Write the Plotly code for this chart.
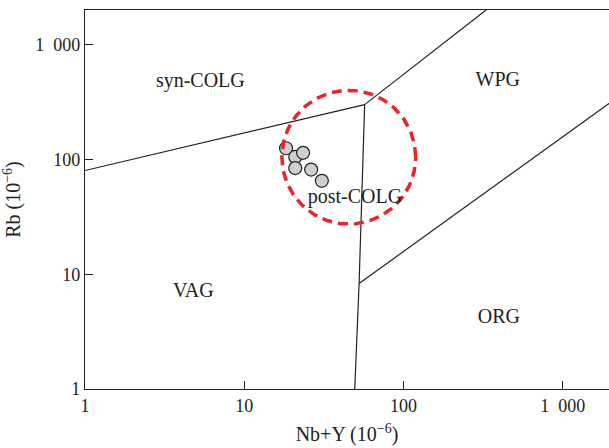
import math
import plotly.graph_objects as go

# Sample data (Nb+Y, Rb) in ppm
nby = [18.3, 20.9, 23.4, 20.9, 26.3, 30.7]
rb = [125, 105, 114, 84, 81.5, 65]

# Discrimination boundaries (Pearce et al. 1984), data coordinates
line_syn_vag_x = [1, 57]
line_syn_vag_y = [80, 300]
line_syn_wpg_x = [57, 330]
line_syn_wpg_y = [300, 2000]
line_vag_wpg_x = [57, 52.6, 49.4]
line_vag_wpg_y = [300, 8.3, 1]
line_org_x = [52.6, 2000]
line_org_y = [8.3, 315]

# Field labels
label_text = ["syn-COLG", "WPG", "post-COLG", "VAG", "ORG"]
label_x = [5.3, 391, 49.5, 4.79, 397]
label_y = [472, 482, 46, 7.05, 4.18]

# Highlight circle: centre (data units) and radii (decades)
circle_center = [45.3, 104.5]
circle_radius_dec = [0.42, 0.5826]

tick_vals = [1, 10, 100, 1000]
tick_text = ["1", "10", "100", "1\u2002000"]

X_MAX = 1950
Y_MAX = 2000

# circle outline in log space
n = 181
cxl = math.log10(circle_center[0])
cyl = math.log10(circle_center[1])
circ_x = [10 ** (cxl + circle_radius_dec[0] * math.cos(2 * math.pi * i / (n - 1))) for i in range(n)]
circ_y = [10 ** (cyl + circle_radius_dec[1] * math.sin(2 * math.pi * i / (n - 1))) for i in range(n)]

fig = go.Figure()
line_style = dict(color="#222222", width=1.2)
for xs, ys in [(line_syn_vag_x, line_syn_vag_y), (line_syn_wpg_x, line_syn_wpg_y),
               (line_vag_wpg_x, line_vag_wpg_y), (line_org_x, line_org_y)]:
    fig.add_trace(go.Scatter(x=xs, y=ys, mode="lines", line=line_style,
                             hoverinfo="skip", showlegend=False))

fig.add_trace(go.Scatter(x=nby, y=rb, mode="markers",
                         marker=dict(size=13, color="#cfcfcf",
                                     line=dict(color="#222222", width=1.2)),
                         showlegend=False))

fig.add_trace(go.Scatter(x=circ_x, y=circ_y, mode="lines",
                         line=dict(color="#e5262a", width=3.5, dash="10px,6px"),
                         hoverinfo="skip", showlegend=False))

fig.add_trace(go.Scatter(x=label_x, y=label_y, mode="text", text=label_text,
                         textposition="middle center",
                         textfont=dict(family="Liberation Serif", size=20, color="#222222"),
                         hoverinfo="skip", showlegend=False))

axis_common = dict(type="log", showgrid=False, zeroline=False, showline=True,
                   linecolor="#222222", linewidth=1.2, ticks="inside", ticklen=8,
                   tickcolor="#222222", tickwidth=1.2, tickvals=tick_vals,
                   ticktext=tick_text,
                   tickfont=dict(family="Liberation Serif", size=18, color="#222222"))

fig.update_xaxes(**axis_common, range=[0, math.log10(X_MAX)], mirror=True,
                 title=dict(text="Nb+Y (10<sup>−6</sup>)",
                            font=dict(family="Liberation Serif", size=20, color="#222222"),
                            standoff=12))
fig.update_yaxes(**axis_common, range=[0, math.log10(Y_MAX)], mirror=False,
                 title=dict(text="Rb (10<sup>−6</sup>)",
                            font=dict(family="Liberation Serif", size=20, color="#222222"),
                            standoff=9))

fig.update_layout(width=609, height=448, margin=dict(l=85, r=0, t=10, b=59),
                  plot_bgcolor="white", paper_bgcolor="white")

# remove the default page margin so the figure fills the window exactly
fig.write_html("out.html", config={"displayModeBar": False},
               post_script="document.body.style.margin='0';document.body.style.overflow='hidden';")
